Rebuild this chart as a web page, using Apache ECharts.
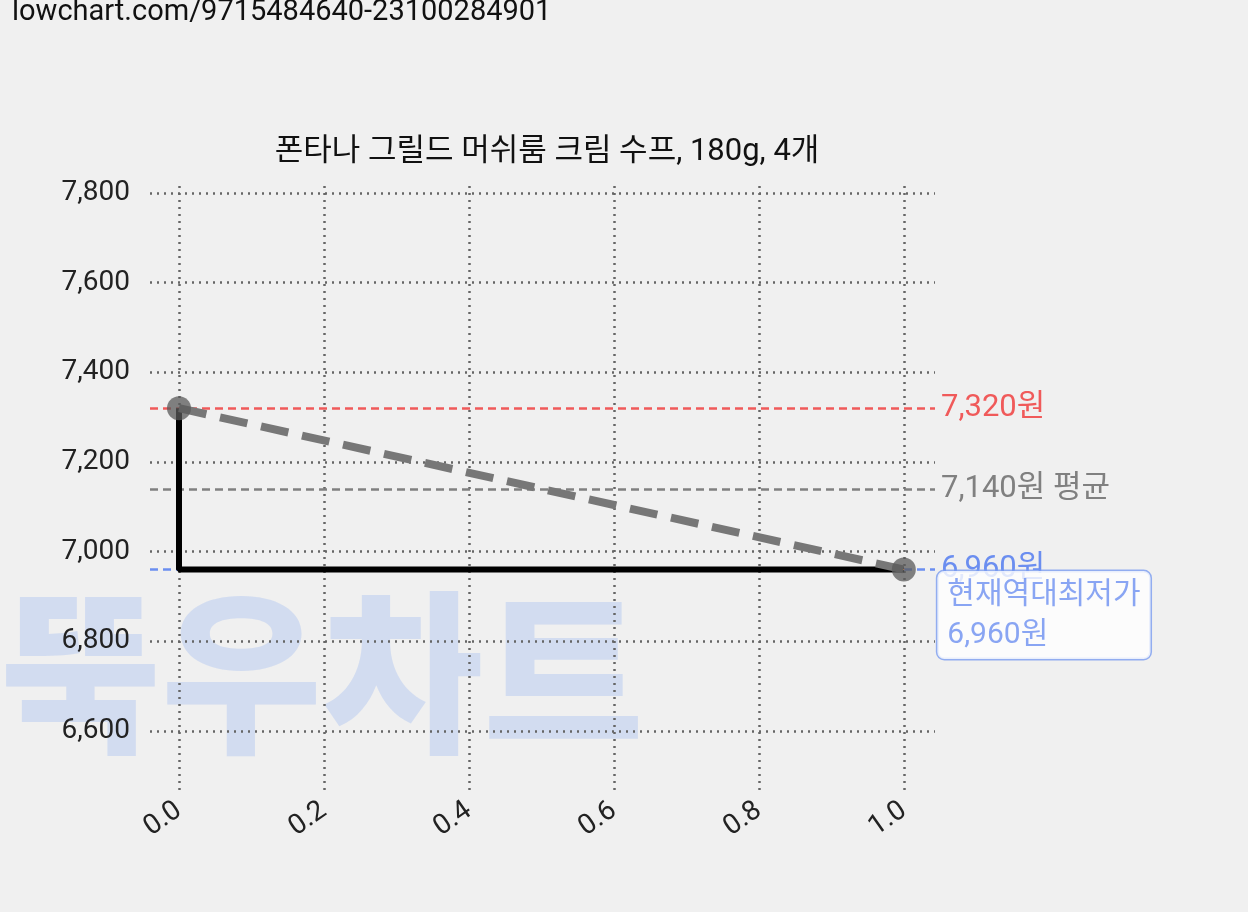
<!DOCTYPE html>
<html><head><meta charset="utf-8">
<script src="https://cdn.jsdelivr.net/npm/echarts@6/dist/echarts.min.js"></script>
<style>html,body{margin:0;background:#f0f0f0}#c{width:1248px;height:912px}</style>
</head><body><div id="c"></div>
<script>
const xs = [0, 1];
const prices = [7320, 6960];
const stepX = [0, 0, 1];
const stepY = [7320, 6960, 6960];
const yTicks = [6600, 6800, 7000, 7200, 7400, 7600, 7800];
const xTicks = [0, 0.2, 0.4, 0.6, 0.8, 1.0];
const maxPrice = 7320, avgPrice = 7140, minPrice = 6960;
const title = '폰타나 그릴드 머쉬룸 크림 수프, 180g, 4개';
const font = 'Roboto, Noto Sans CJK KR';
const c = echarts.init(document.getElementById('c'));
const gridLineStyle = {type: [2, 5], color: '#666', width: 2.5};
c.setOption({
  backgroundColor: '#f0f0f0',
  animation: false,
  textStyle: {fontFamily: font},
  title: {text: title, left: 542, top: 132, textAlign: 'center', textStyle: {fontSize: 31, fontWeight: 'normal', color: '#111', fontFamily: font}},
  graphic: [
    {type: 'text', left: 12, top: -2, z: 10, style: {text: 'lowchart.com/9715484640-23100284901', fontSize: 29, fill: '#111', fontFamily: font}},
    {type: 'text', left: 0, top: 585, z: -1, style: {text: '뚝우차트', fontSize: 175, fontWeight: 900, fill: 'rgba(170,192,240,0.42)', fontFamily: 'Noto Sans CJK KR'}}
  ],
  grid: {left: 150, right: 313, top: 185, bottom: 122},
  xAxis: {type: 'value', min: -0.04, max: 1.043,
    axisLine: {show: false}, axisTick: {show: false}, splitLine: {show: false},
    axisLabel: {customValues: xTicks, rotate: 35, fontSize: 28, color: '#222', margin: 18, formatter: v => v.toFixed(1)}},
  yAxis: {type: 'value', min: 6468, max: 7818,
    axisLine: {show: false}, axisTick: {show: false}, splitLine: {show: false},
    axisLabel: {customValues: yTicks, fontSize: 28, color: '#222', margin: 20, formatter: v => v.toLocaleString('en-US')}},
  series: [
    {type: 'line', data: [], silent: true, z: 1,
      markLine: {symbol: 'none', silent: true, label: {show: false}, lineStyle: gridLineStyle,
        data: yTicks.map(v => ({yAxis: v})).concat(xTicks.map(v => ({xAxis: v})))}},
    {type: 'line', data: [], silent: true, z: 2,
      markLine: {symbol: 'none', silent: true,
        data: [
          {yAxis: maxPrice, lineStyle: {color: '#f05a5a', type: [8, 5], width: 2.5}, label: {formatter: '7,320원', color: '#f05a5a'}},
          {yAxis: avgPrice, lineStyle: {color: '#808080', type: [8, 5], width: 2.5}, label: {formatter: '7,140원 평균', color: '#808080'}},
          {yAxis: minPrice, lineStyle: {color: '#6b8ef0', type: [8, 5], width: 2.5}, label: {formatter: '6,960원', color: '#6b8ef0'}}
        ],
        label: {position: 'end', fontSize: 31, distance: 6, fontFamily: font}}},
    {type: 'line', data: stepX.map((x, i) => [x, stepY[i]]), symbol: 'none', lineStyle: {color: '#000', width: 6}, z: 10},
    {type: 'line', data: xs.map((x, i) => [x, prices[i]]), symbol: 'circle', symbolSize: 24,
      itemStyle: {color: 'rgba(90,90,90,0.75)'}, lineStyle: {color: '#777', width: 8, type: [28, 14]}, z: 11},
    {type: 'scatter', data: [[1, minPrice]], symbolSize: 1, z: 12,
      label: {show: true, position: [34, 2], formatter: '현재역대최저가\n6,960원', fontSize: 30, lineHeight: 40, color: '#6b8ef0',
        backgroundColor: '#fff', borderColor: '#7a9cf0', borderWidth: 1.5, borderRadius: 7, padding: [4, 10, 4, 10], fontFamily: font}}
  ]
});
</script></body></html>
